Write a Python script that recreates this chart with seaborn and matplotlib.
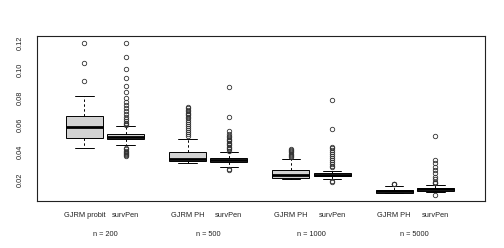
import matplotlib
matplotlib.use("Agg")
import matplotlib.pyplot as plt
import matplotlib.transforms as mtransforms
import seaborn as sns
import pandas as pd

# method under each box and the sample size of each pair
methods = ["GJRM probit", "survPen", "GJRM PH", "survPen",
           "GJRM PH", "survPen", "GJRM PH", "survPen"]
sample_sizes = ["n = 200", "n = 500", "n = 1000", "n = 5000"]

# box summaries
q1 = [0.0502, 0.0497, 0.0336, 0.0328, 0.0213, 0.0224, 0.0103, 0.0119]
median = [0.0585, 0.0509, 0.0348, 0.0341, 0.0233, 0.0235, 0.0116, 0.0130]
q3 = [0.0665, 0.0536, 0.0404, 0.0357, 0.0270, 0.0247, 0.0126, 0.0139]
whisker_low = [0.0433, 0.0450, 0.0323, 0.0292, 0.0201, 0.0203, 0.0099, 0.0111]
whisker_high = [0.0812, 0.0592, 0.0497, 0.0398, 0.0348, 0.0265, 0.0152, 0.0157]
outliers = [
    [0.0922, 0.1051, 0.1197],
    [0.1200, 0.1100, 0.1010, 0.0945, 0.0885, 0.0840, 0.0800, 0.0770, 0.0745,
     0.0720, 0.0700, 0.0680, 0.0660, 0.0645, 0.0630, 0.0615, 0.0605, 0.0600,
     0.0430, 0.0420, 0.0410, 0.0400, 0.0392, 0.0385, 0.0378, 0.0372],
    [0.0515, 0.0530, 0.0545, 0.0560, 0.0575, 0.0590, 0.0605, 0.0620, 0.0635,
     0.0650, 0.0660, 0.0670, 0.0680, 0.0690, 0.0700, 0.0710, 0.0720, 0.0730],
    [0.0880, 0.0660, 0.0555, 0.0535, 0.0520, 0.0510, 0.0500, 0.0490, 0.0480,
     0.0470, 0.0460, 0.0450, 0.0440, 0.0430, 0.0420, 0.0410, 0.0274, 0.0268],
    [0.0362, 0.0370, 0.0380, 0.0390, 0.0400, 0.0410, 0.0415, 0.0420],
    [0.0782, 0.0570, 0.0440, 0.0429, 0.0415, 0.0400, 0.0385, 0.0370, 0.0355,
     0.0340, 0.0325, 0.0310, 0.0300, 0.0290, 0.0188, 0.0183],
    [0.0166, 0.0168, 0.0170],
    [0.0521, 0.0343, 0.0319, 0.0294, 0.0270, 0.0245, 0.0221, 0.0201, 0.0184,
     0.0176, 0.0172, 0.0084],
]

# x layout: pairs separated by a wider gap
positions = [1, 2, 3.5, 4.5, 6, 7, 8.5, 9.5]
pair_centres = [1.5, 4, 6.5, 9]

# rebuild samples whose quartiles/whiskers/outliers match the summaries
rows = []
for i, pos in enumerate(positions):
    vals = ([whisker_low[i]] + [q1[i]] * 100 + [median[i]] * 100
            + [q3[i]] * 100 + [whisker_high[i]] + outliers[i])
    rows += [(pos, v) for v in vals]
df = pd.DataFrame(rows, columns=["pos", "value"])

sns.set_style("white")
plt.rcParams["font.family"] = ["Liberation Sans", "DejaVu Sans"]

fig = plt.figure(figsize=(5.04, 2.48), dpi=100)
ax = fig.add_axes([0.0728, 0.1895, 0.8895, 0.6665])

sns.boxplot(data=df, x="pos", y="value", native_scale=True, width=0.9,
            color="#d3d3d3", saturation=1, linecolor="black", linewidth=0.7,
            whis=1.5, ax=ax,
            medianprops=dict(linewidth=2.0, color="black"),
            whiskerprops=dict(linestyle=(0, (2.5, 2.5)), linewidth=0.7),
            capprops=dict(linewidth=0.7),
            flierprops=dict(marker="o", markersize=3.2, markerfacecolor="none",
                            markeredgecolor="#333333", markeredgewidth=0.6))

ax.set_xlim(-0.153, 10.70)
ax.set_ylim(0.00425, 0.1253)
ax.set_xlabel("")
ax.set_ylabel("")

ax.set_xticks(positions)
ax.set_xticklabels(methods)
yt = [0.02, 0.04, 0.06, 0.08, 0.10, 0.12]
ax.set_yticks(yt)
ax.set_yticklabels([f"{v:.2f}" for v in yt], rotation=90, va="center")
ax.tick_params(axis="both", length=3.5, width=0.6, color="#333333",
               labelsize=5.3, labelcolor="#222222")
ax.tick_params(axis="x", pad=4.5)
ax.tick_params(axis="y", pad=5.5)

for s in ax.spines.values():
    s.set_color("#222222")
    s.set_linewidth(0.8)

trans = mtransforms.blended_transform_factory(ax.transData, fig.transFigure)
for c, lab in zip(pair_centres, sample_sizes):
    ax.text(c, 1 - 234.3 / 248, lab, transform=trans, ha="center", va="center",
            fontsize=5.3, color="#222222")

fig.savefig("out.png", dpi=100)
